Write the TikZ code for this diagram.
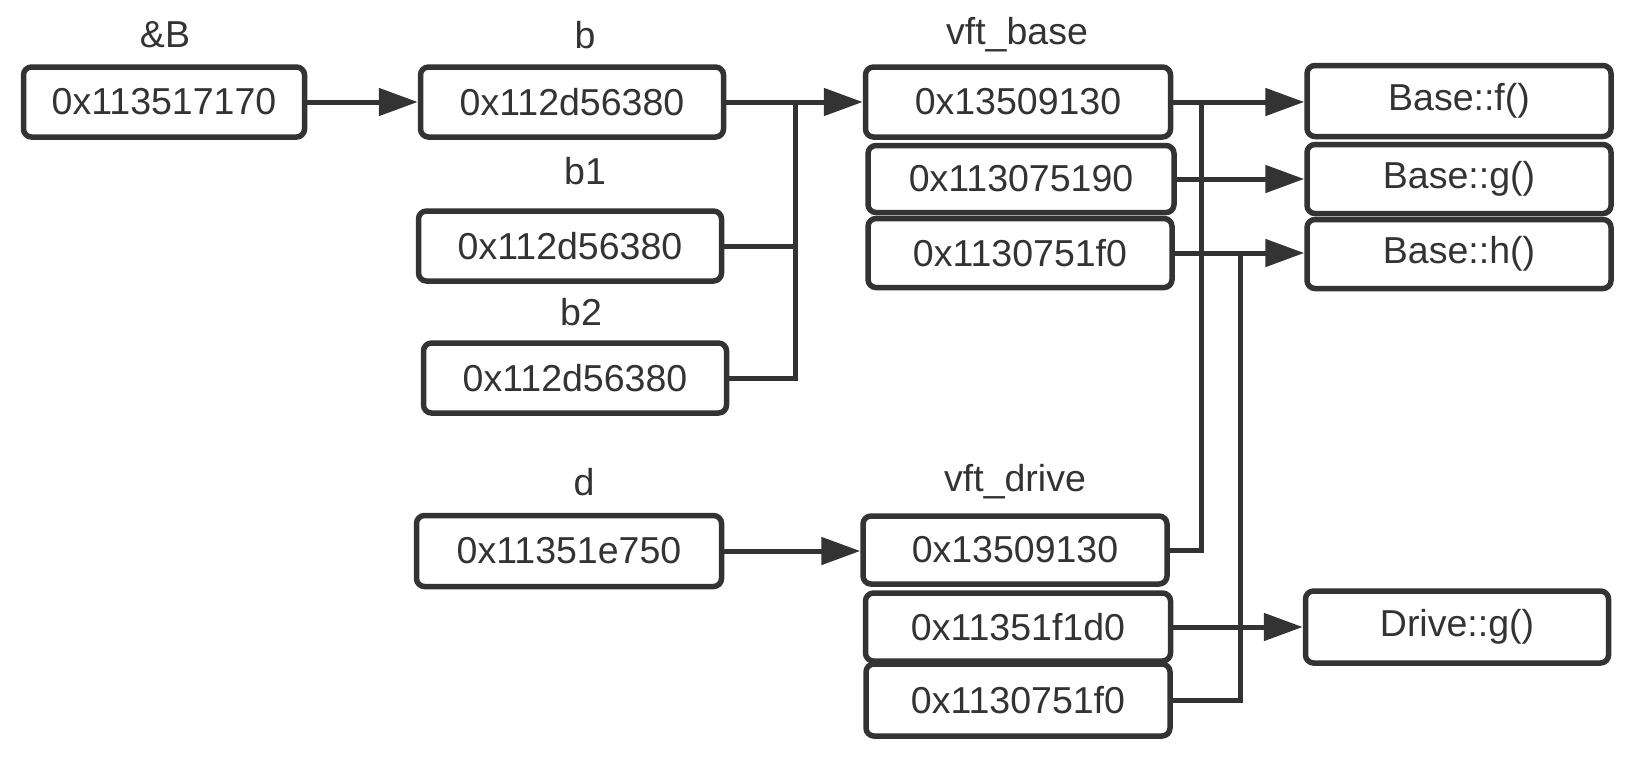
\documentclass[tikz,border=0pt]{standalone}
\usepackage{fontspec}
\setmainfont{Liberation Sans}
\usetikzlibrary{arrows.meta}
\definecolor{ink}{HTML}{333333}
\tikzset{
  x=1pt,y=-1pt,
  cell/.style={draw=ink,line width=5.5pt,rounded corners=8pt,text=ink,
    minimum width=#1,minimum height=70pt,inner sep=0pt,
    font=\fontsize{37.5}{40}\selectfont},
  cell/.default=303pt,
  lbl/.style={text=ink,inner sep=0pt,font=\fontsize{37.5}{40}\selectfont},
  wire/.style={draw=ink,line width=5pt},
  arr/.style={wire,-{Triangle[length=39pt,width=27pt]}},
}
\begin{document}
\begin{tikzpicture}
\useasboundingbox (0,0) rectangle (1648,756);
% labels
\node[lbl] (lB) at (165,35) {\&B};
\node[lbl] (lb) at (585,35) {b};
\node[lbl] (lb1) at (585,171) {b1};
\node[lbl] (lb2) at (581,312) {b2};
\node[lbl] (lvb) at (1017,35) {vft\_base};
\node[lbl] (ld) at (584,482) {d};
\node[lbl] (lvd) at (1015,482) {vft\_drive};
% boxes
\node[cell=281pt] (B) at (164,102) {0x113517170};
\node[cell] (b) at (572,102) {0x112d56380};
\node[cell] (b1) at (570,246) {0x112d56380};
\node[cell] (b2) at (575,378) {0x112d56380};
\node[cell=305pt] (vb1) at (1018,102) {0x13509130};
\node[cell=306pt,minimum height=67pt] (vb2) at (1021,179) {0x113075190};
\node[cell=304pt,minimum height=69pt] (vb3) at (1020,253) {0x1130751f0};
\node[cell=304pt,minimum height=71pt] (bf) at (1459,101) {Base::f()};
\node[cell=304pt,minimum height=69pt] (bg) at (1459,179) {Base::g()};
\node[cell=304pt,minimum height=69pt] (bh) at (1459,254) {Base::h()};
\node[cell=305pt,minimum height=71pt] (d) at (569,551) {0x11351e750};
\node[cell=304pt,minimum height=68pt] (vd1) at (1015,550) {0x13509130};
\node[cell=305pt,minimum height=68pt] (vd2) at (1018,627) {0x11351f1d0};
\node[cell=304pt,minimum height=72pt] (vd3) at (1018,700) {0x1130751f0};
\node[cell=303pt,minimum height=72pt] (dg) at (1457,627) {Drive::g()};
% junction points
\coordinate (jb) at (795,102);
\coordinate (jf) at (1201,102);
\coordinate (jh) at (1240,253);
% connectors
\draw[arr] (B.east) -- (b.west);
\draw[arr] (b.east) -- (vb1.west);
\draw[wire] (b1.east) -| (jb);
\draw[wire] (b2.east) -| (jb);
\draw[wire] (vd1.east) -| (jf);
\draw[wire] (vd3.east) -| (jh);
\draw[arr] (vb1.east) -- (vb1.east -| bf.west);
\draw[arr] (vb2.east) -- (vb2.east -| bg.west);
\draw[arr] (vb3.east) -- (vb3.east -| bh.west);
\draw[arr] (d.east) -- (d.east -| vd1.west);
\draw[arr] (vd2.east) -- (dg.west);
\end{tikzpicture}
\end{document}
